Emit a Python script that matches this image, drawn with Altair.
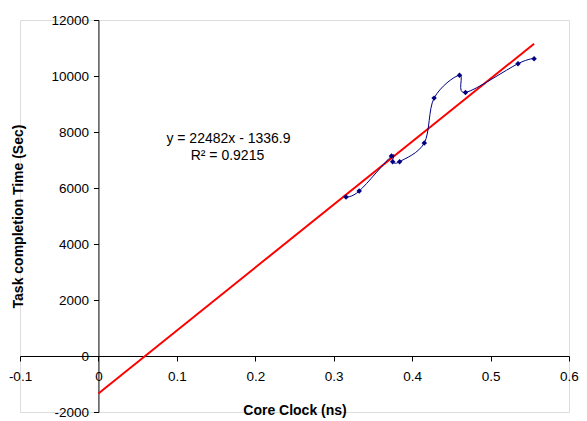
import altair as alt
import pandas as pd

# Data
core_clock = [0.3157, 0.3325, 0.3736, 0.3752, 0.3840, 0.4155, 0.4280, 0.4604, 0.4680, 0.5350, 0.5555]
task_time = [5680, 5890, 7140, 6940, 6940, 7610, 9210, 10030, 9410, 10440, 10620]

slope = 22482
intercept = -1336.9
trend_x = [0.0, 0.5555]
trend_y = [slope * v + intercept for v in trend_x]

eq_text = ["y = 22482x - 1336.9", "R\u00b2 = 0.9215"]
eq_x = [0.1658, 0.1645]
eq_y = [7740, 7140]

x_ticks = [-0.1, 0.0, 0.1, 0.2, 0.3, 0.4, 0.5, 0.6]
y_ticks = [-2000, 0, 2000, 4000, 6000, 8000, 10000, 12000]

W, H = 549, 392
FONT = "Liberation Sans"

df = pd.DataFrame({"x": core_clock, "y": task_time, "order": list(range(len(core_clock)))})
trend = pd.DataFrame({"x": trend_x, "y": trend_y})
eq = pd.DataFrame({"x": eq_x, "y": eq_y, "t": eq_text})

xs = alt.Scale(domain=[-0.1, 0.6], nice=False, zero=False)
ys = alt.Scale(domain=[-2000, 12000], nice=False, zero=False)

x_off = -H * 2000 / 14000
y_off = -W * 0.1 / 0.7

x_axis = alt.Axis(
    values=x_ticks, offset=x_off, grid=False, domainColor="black", tickColor="black",
    tickSize=5, labelPadding=8, labelFontSize=13.5, labelFont=FONT, labelColor="black",
    labelOverlap=False, labelFlush=False,
    labelExpr="datum.value < 0 ? '-' + format(-datum.value, '.1~f') : format(datum.value, '.1~f')",
    title="Core Clock (ns)", titleFont=FONT, titleFontSize=14, titleFontWeight="bold",
    titleColor="black", titleX=W / 2, titleY=54, titleBaseline="middle",
)
y_axis = alt.Axis(
    values=y_ticks, offset=y_off, grid=False, domainColor="black", tickColor="black",
    tickSize=5, labelPadding=5, labelFontSize=13.5, labelFont=FONT, labelColor="black",
    labelOverlap=False, labelFlush=False,
    labelExpr="datum.value < 0 ? '-' + format(-datum.value, 'd') : format(datum.value, 'd')",
    title="Task completion Time (Sec)", titleFont=FONT, titleFontSize=14, titleFontWeight="bold",
    titleColor="black", titleX=-80, titleY=H / 2, titleAngle=270, titleBaseline="middle",
    titleAlign="center",
)

line = alt.Chart(df).mark_line(color="#000080", strokeWidth=1, interpolate="cardinal").encode(
    x=alt.X("x:Q", scale=xs, axis=x_axis),
    y=alt.Y("y:Q", scale=ys, axis=y_axis),
    order="order:Q",
)
pts = alt.Chart(df).mark_point(shape="diamond", filled=True, color="#000080", size=30, opacity=1).encode(
    x=alt.X("x:Q", scale=xs),
    y=alt.Y("y:Q", scale=ys),
)
tl = alt.Chart(trend).mark_line(color="#FF0000", strokeWidth=2).encode(
    x=alt.X("x:Q", scale=xs),
    y=alt.Y("y:Q", scale=ys),
)
txt = alt.Chart(eq).mark_text(font=FONT, fontSize=14, color="black", align="center", baseline="middle").encode(
    x=alt.X("x:Q", scale=xs),
    y=alt.Y("y:Q", scale=ys),
    text="t:N",
)

chart = alt.layer(tl, line, pts, txt).properties(
    width=W, height=H,
    autosize=alt.AutoSizeParams(type="none"),
    padding={"left": 12, "top": 12, "right": 10, "bottom": 9},
).configure_view(stroke=None).configure(background="white")

chart.save("out.html", embed_options={"renderer": "svg", "actions": False})
